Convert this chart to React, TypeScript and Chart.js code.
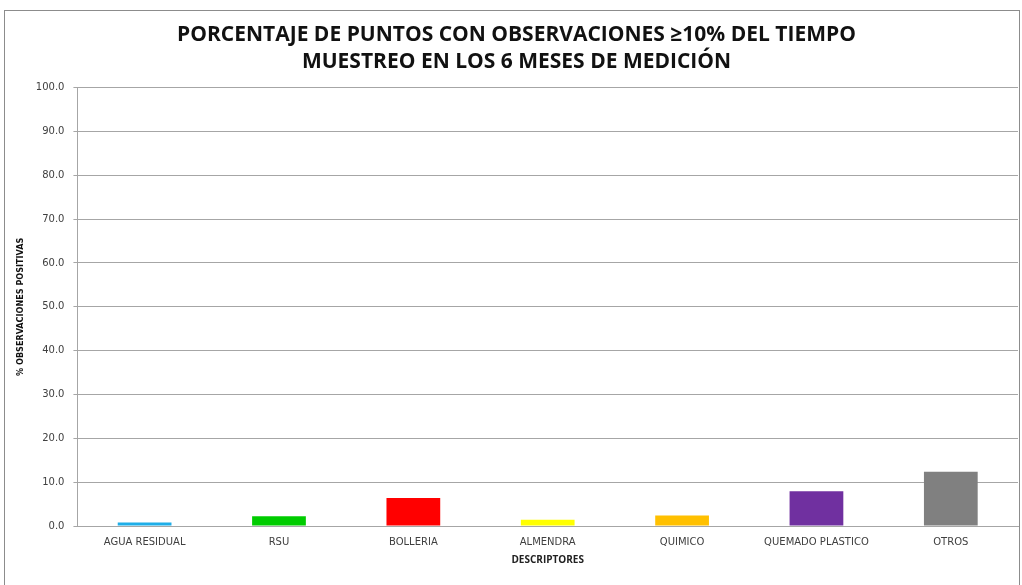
import React, { useEffect, useRef } from "react";
import { Chart, registerables } from "chart.js";

Chart.register(...registerables);

const categories = ["AGUA RESIDUAL", "RSU", "BOLLERIA", "ALMENDRA", "QUIMICO", "QUEMADO PLASTICO", "OTROS"];
const values = [0.8, 2.2, 6.4, 1.4, 2.4, 7.9, 12.4];
const barColors = ["#1FAEE8", "#00CC00", "#FF0000", "#FFFF00", "#FFC000", "#7030A0", "#808080"];
const titleLines = ["PORCENTAJE DE PUNTOS CON OBSERVACIONES ≥10% DEL TIEMPO", "MUESTREO EN LOS 6 MESES DE MEDICIÓN"];
const yTitle = "% OBSERVACIONES POSITIVAS";
const xTitle = "DESCRIPTORES";

export default function App() {
  const ref = useRef<HTMLCanvasElement | null>(null);
  useEffect(() => {
    if (!ref.current) return;
    const chart = new Chart(ref.current, {
      type: "bar",
      data: {
        labels: categories,
        datasets: [
          {
            data: values,
            backgroundColor: barColors,
            borderWidth: 0,
            barPercentage: 0.4,
            categoryPercentage: 1,
          },
        ],
      },
      options: {
        animation: false,
        responsive: false,
        maintainAspectRatio: false,
        layout: { padding: { left: 15, right: 4, top: 10, bottom: 19 } },
        plugins: {
          legend: { display: false },
          tooltip: { enabled: false },
          title: {
            display: true,
            text: titleLines,
            color: "#111",
            font: { family: "'Open Sans', sans-serif", size: 21, weight: "bold", lineHeight: 1.3 },
            padding: { top: 11, bottom: 12 },
          },
        },
        scales: {
          x: {
            grid: { display: false, drawTicks: false },
            border: { display: true, color: "#A6A6A6", width: 1 },
            ticks: {
              color: "#404040",
              font: { family: "'DejaVu Sans', sans-serif", size: 10 },
              padding: 10,
              maxRotation: 0,
              autoSkip: false,
            },
            title: {
              display: true,
              text: xTitle,
              color: "#222",
              font: { family: "'Open Sans', sans-serif", size: 10, weight: "bold" },
              padding: { top: -4, bottom: 0 },
            },
          },
          y: {
            min: 0,
            max: 100,
            grid: { color: "#A6A6A6", lineWidth: 1, drawTicks: true, tickLength: 4 },
            border: { display: true, color: "#A6A6A6", width: 1 },
            ticks: {
              stepSize: 10,
              color: "#404040",
              font: { family: "'DejaVu Sans', sans-serif", size: 10 },
              padding: 9,
              callback: (v: any) => Number(v).toFixed(1),
            },
            title: {
              display: true,
              text: yTitle,
              color: "#111",
              font: { family: "'DejaVu Sans Condensed', 'Liberation Sans Narrow', sans-serif", size: 9, weight: "bold" },
              padding: { top: 0, bottom: 1 },
            },
          },
        },
      },
    });
    return () => chart.destroy();
  }, []);
  return (
    <div style={{ position: "fixed", left: 0, top: 0, width: 1022, height: 585, background: "#fff" }}>
      <div
        style={{
          position: "absolute",
          left: 4,
          top: 10,
          width: 1016,
          height: 585,
          border: "1px solid #8C8C8C",
          boxSizing: "border-box",
        }}
      />
      <canvas ref={ref} width={1022} height={585} style={{ position: "absolute", left: 0, top: 0 }} />
    </div>
  );
}
